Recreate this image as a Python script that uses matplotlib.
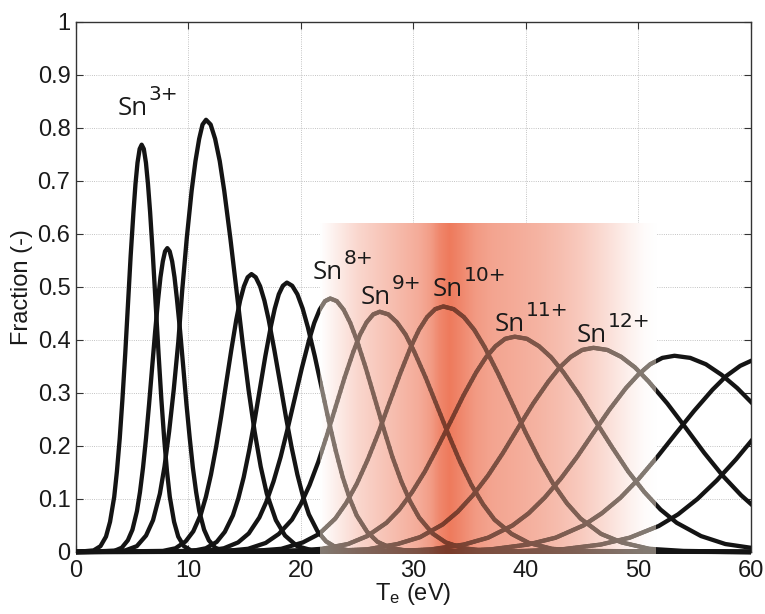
import matplotlib
matplotlib.use("Agg")
import matplotlib.pyplot as plt
import numpy as np
from matplotlib.collections import LineCollection
from matplotlib.colors import LinearSegmentedColormap
from matplotlib.patches import Rectangle

# ion fraction curves, Te in eV
sn3_x = [0, 1.57, 2.18, 2.67, 3.03, 3.40, 3.64, 3.89, 4.13, 4.38, 4.62, 4.86, 5.11, 5.29, 5.47, 5.66,
         5.84, 6.03, 6.22, 6.40, 6.59, 6.84, 7.09, 7.34, 7.59, 7.84, 8.09, 8.34, 8.72, 9.09, 9.59, 10.22, 60.5]
sn3_y = [0, 0.003, 0.011, 0.029, 0.057, 0.104, 0.152, 0.214, 0.288, 0.374, 0.466, 0.558, 0.641, 0.694, 0.734, 0.760,
         0.768, 0.760, 0.734, 0.694, 0.641, 0.558, 0.466, 0.374, 0.288, 0.214, 0.152, 0.104, 0.057, 0.029, 0.011, 0.003, 0]

sn4_x = [0, 3.40, 4.07, 4.61, 5.02, 5.42, 5.69, 5.96, 6.23, 6.50, 6.77, 7.04, 7.31, 7.51, 7.72, 7.92,
         8.12, 8.33, 8.55, 8.76, 8.97, 9.26, 9.54, 9.82, 10.11, 10.39, 10.68, 10.96, 11.39, 11.81, 12.38, 13.09, 60.5]
sn4_y = [0, 0.002, 0.008, 0.022, 0.042, 0.077, 0.113, 0.159, 0.215, 0.279, 0.348, 0.416, 0.478, 0.518, 0.548, 0.567,
         0.573, 0.567, 0.548, 0.518, 0.478, 0.416, 0.348, 0.279, 0.215, 0.159, 0.113, 0.077, 0.042, 0.022, 0.008, 0.002, 0]

sn5_x = [0, 4.39, 5.41, 6.23, 6.85, 7.46, 7.87, 8.28, 8.69, 9.10, 9.45, 9.85, 10.28, 10.62, 10.95, 11.25,
         11.56, 11.97, 12.37, 12.78, 13.18, 13.72, 14.26, 14.80, 15.34, 15.88, 16.42, 16.96, 17.77, 18.58, 19.66, 21.01, 60.5]
sn5_y = [0, 0.003, 0.011, 0.031, 0.060, 0.110, 0.161, 0.227, 0.306, 0.397, 0.495, 0.592, 0.681, 0.737, 0.779, 0.806,
         0.815, 0.806, 0.779, 0.737, 0.681, 0.592, 0.495, 0.397, 0.306, 0.227, 0.161, 0.110, 0.060, 0.031, 0.011, 0.003, 0]

sn6_x = [0, 7.73, 8.85, 9.75, 10.43, 11.10, 11.55, 12.00, 12.45, 12.90, 13.35, 13.80, 14.25, 14.59, 14.93, 15.26,
         15.60, 15.98, 16.37, 16.75, 17.13, 17.64, 18.15, 18.66, 19.17, 19.68, 20.19, 20.70, 21.47, 22.23, 23.25, 24.53, 60.5]
sn6_y = [0, 0.002, 0.007, 0.020, 0.039, 0.071, 0.104, 0.146, 0.197, 0.255, 0.318, 0.380, 0.438, 0.474, 0.501, 0.518,
         0.524, 0.518, 0.501, 0.474, 0.438, 0.380, 0.318, 0.255, 0.197, 0.146, 0.104, 0.071, 0.039, 0.020, 0.007, 0.002, 0]

sn7_x = [0, 10.35, 11.55, 12.51, 13.23, 13.95, 14.43, 14.91, 15.39, 15.87, 16.35, 16.83, 17.31, 17.67, 18.03, 18.39,
         18.75, 19.22, 19.68, 20.15, 20.61, 21.23, 21.85, 22.47, 23.09, 23.71, 24.33, 24.95, 25.88, 26.81, 28.05, 29.60, 60.5]
sn7_y = [0, 0.002, 0.007, 0.019, 0.038, 0.069, 0.101, 0.141, 0.191, 0.247, 0.308, 0.369, 0.424, 0.459, 0.486, 0.502,
         0.508, 0.502, 0.486, 0.459, 0.424, 0.369, 0.308, 0.247, 0.191, 0.141, 0.101, 0.069, 0.038, 0.019, 0.007, 0.002, 0]

sn8_x = [0, 11.58, 13.15, 14.41, 15.36, 16.30, 16.93, 17.56, 18.19, 18.82, 19.45, 20.08, 20.71, 21.18, 21.66, 22.13,
         22.60, 23.19, 23.79, 24.38, 24.97, 25.76, 26.55, 27.34, 28.13, 28.92, 29.71, 30.50, 31.69, 32.87, 34.45, 36.43, 60.5]
sn8_y = [0, 0.002, 0.007, 0.018, 0.035, 0.065, 0.095, 0.133, 0.179, 0.233, 0.290, 0.347, 0.399, 0.432, 0.457, 0.473,
         0.478, 0.473, 0.457, 0.432, 0.399, 0.347, 0.290, 0.233, 0.179, 0.133, 0.095, 0.065, 0.035, 0.018, 0.007, 0.002, 0]

sn9_x = [0, 13.35, 15.30, 16.86, 18.03, 19.20, 19.98, 20.76, 21.54, 22.32, 23.10, 23.88, 24.66, 25.25, 25.83, 26.42,
         27.00, 27.77, 28.53, 29.30, 30.06, 31.08, 32.10, 33.12, 34.14, 35.16, 36.18, 37.20, 38.73, 40.26, 42.30, 44.85, 60.5]
sn9_y = [0, 0.002, 0.006, 0.017, 0.034, 0.061, 0.090, 0.126, 0.170, 0.221, 0.275, 0.329, 0.378, 0.410, 0.433, 0.448,
         0.453, 0.448, 0.433, 0.410, 0.378, 0.329, 0.275, 0.221, 0.170, 0.126, 0.090, 0.061, 0.034, 0.017, 0.006, 0.002, 0]

sn10_x = [0, 15.85, 18.25, 20.17, 21.61, 23.05, 24.01, 24.97, 25.93, 26.89, 27.85, 28.81, 29.77, 30.49, 31.21, 31.93,
          32.65, 33.57, 34.48, 35.40, 36.31, 37.53, 38.75, 39.97, 41.19, 42.41, 43.63, 44.85, 46.68, 48.51, 50.95, 54.00, 60.5]
sn10_y = [0, 0.002, 0.006, 0.018, 0.034, 0.063, 0.092, 0.129, 0.174, 0.225, 0.281, 0.336, 0.387, 0.419, 0.443, 0.458,
          0.463, 0.458, 0.443, 0.419, 0.387, 0.336, 0.281, 0.225, 0.174, 0.129, 0.092, 0.063, 0.034, 0.018, 0.006, 0.002, 0]

sn11_x = [0, 19.05, 21.90, 24.18, 25.89, 27.60, 28.74, 29.88, 31.02, 32.16, 33.30, 34.44, 35.58, 36.44, 37.29, 38.15,
          39.00, 40.08, 41.16, 42.24, 43.32, 44.76, 46.20, 47.64, 49.08, 50.52, 51.96, 53.40, 55.56, 57.72, 60.60]
sn11_y = [0, 0.002, 0.006, 0.015, 0.030, 0.055, 0.080, 0.113, 0.152, 0.198, 0.246, 0.295, 0.339, 0.367, 0.388, 0.402,
          0.406, 0.402, 0.388, 0.367, 0.339, 0.295, 0.246, 0.198, 0.152, 0.113, 0.080, 0.055, 0.030, 0.015, 0.006]

sn12_x = [0, 22.55, 25.90, 28.58, 30.59, 32.60, 33.94, 35.28, 36.62, 37.96, 39.30, 40.64, 41.98, 42.99, 43.99, 45.00,
          46.00, 47.23, 48.46, 49.69, 50.92, 52.56, 54.20, 55.84, 57.48, 59.12, 60.76]
sn12_y = [0, 0.002, 0.005, 0.015, 0.028, 0.052, 0.076, 0.107, 0.144, 0.187, 0.234, 0.280, 0.321, 0.348, 0.368, 0.381,
          0.385, 0.381, 0.368, 0.348, 0.321, 0.280, 0.234, 0.187, 0.144, 0.107, 0.076]

sn13_x = [0, 28.00, 31.60, 34.48, 36.64, 38.80, 40.24, 41.68, 43.12, 44.56, 46.00, 47.44, 48.88, 49.96, 51.04, 52.12,
          53.20, 54.60, 55.99, 57.39, 58.78, 60.64]
sn13_y = [0, 0.001, 0.005, 0.014, 0.027, 0.050, 0.073, 0.103, 0.139, 0.180, 0.225, 0.269, 0.309, 0.334, 0.354, 0.366,
          0.370, 0.366, 0.354, 0.334, 0.309, 0.269]

sn14_x = [0, 32.80, 36.90, 40.18, 42.64, 45.10, 46.74, 48.38, 50.02, 51.66, 53.30, 54.94, 56.58, 57.81, 59.04, 60.27, 61.50]
sn14_y = [0, 0.001, 0.005, 0.014, 0.027, 0.050, 0.073, 0.102, 0.138, 0.179, 0.223, 0.266, 0.306, 0.332, 0.351, 0.363, 0.367]

sn15_x = [0, 38.90, 43.20, 46.64, 49.22, 51.80, 53.52, 55.24, 56.96, 58.68, 60.40, 62.12]
sn15_y = [0, 0.001, 0.005, 0.014, 0.027, 0.049, 0.071, 0.100, 0.135, 0.175, 0.219, 0.261]

# highlighted temperature window and its colour profile
band_x = [21.7, 23.0, 25.0, 27.0, 29.0, 30.5, 31.5, 32.3, 33.2, 34.2, 35.5, 37.0, 39.0, 41.0, 43.0, 45.0, 47.0, 49.0, 50.5, 51.6]
band_level = [0, 0.12, 0.3, 0.42, 0.54, 0.63, 0.74, 0.9, 1.0, 0.9, 0.76, 0.68, 0.63, 0.57, 0.49, 0.39, 0.26, 0.12, 0.03, 0]
band_top = 0.62

ion_labels = ["3+", "8+", "9+", "10+", "11+", "12+"]
xtick_vals = [0, 10, 20, 30, 40, 50, 60]
ytick_labels = ["0", "0.1", "0.2", "0.3", "0.4", "0.5", "0.6", "0.7", "0.8", "0.9", "1"]

curves = [(sn3_x, sn3_y), (sn4_x, sn4_y), (sn5_x, sn5_y), (sn6_x, sn6_y), (sn7_x, sn7_y),
          (sn8_x, sn8_y), (sn9_x, sn9_y), (sn10_x, sn10_y), (sn11_x, sn11_y), (sn12_x, sn12_y),
          (sn13_x, sn13_y), (sn14_x, sn14_y), (sn15_x, sn15_y)]

# label anchor (left, baseline) in data coords
label_pos = [(3.73, 0.824), (21.07, 0.515), (25.33, 0.468), (31.73, 0.483), (37.24, 0.417), (44.53, 0.396)]

plt.rcParams["font.family"] = "Liberation Sans"
plt.rcParams["mathtext.fontset"] = "custom"
plt.rcParams["mathtext.rm"] = "Liberation Sans"
plt.rcParams["mathtext.it"] = "Liberation Sans:italic"

fig = plt.figure(figsize=(7.65, 6.14), dpi=100)
ax = fig.add_axes([0.0993, 0.101, 0.8824, 0.8637])

# gradient band
red = np.array([238, 122, 92]) / 255.0
x0, x1 = band_x[0], band_x[-1]
stops = [((bx - x0) / (x1 - x0), tuple(1 - lv * (1 - red))) for bx, lv in zip(band_x, band_level)]
band_cmap = LinearSegmentedColormap.from_list("band", stops, N=512)
grad = np.linspace(0, 1, 600)[None, :]
ax.imshow(grad, cmap=band_cmap, extent=[x0, x1, 0, band_top], aspect="auto",
          interpolation="bilinear", zorder=1)

line_col = "#141414"
grey = np.array([0.51, 0.48, 0.45])
lw = 3.1

clip_left = Rectangle((0, -1), x0, 2, transform=ax.transData)
clip_right = Rectangle((x1, -1), 60 - x1, 2, transform=ax.transData)
clip_mid = Rectangle((x0, -1), x1 - x0, 2, transform=ax.transData)

for cx, cy in curves:
    for clip in (clip_left, clip_right):
        ln, = ax.plot(cx, cy, color=line_col, lw=lw, solid_joinstyle="round",
                      solid_capstyle="round", zorder=3)
        ln.set_clip_path(clip)
    # inside the window the curve takes on the band tint
    xs = np.asarray(cx, float)
    ys = np.asarray(cy, float)
    segs, cols = [], []
    for i in range(len(xs) - 1):
        if xs[i + 1] < x0 - 0.5 or xs[i] > x1 + 0.5:
            continue
        n = max(1, int(np.ceil((xs[i + 1] - xs[i]) / 0.15)))
        f = np.linspace(0, 1, n + 1)
        px = xs[i] + f * (xs[i + 1] - xs[i])
        py = ys[i] + f * (ys[i + 1] - ys[i])
        for j in range(n):
            segs.append([(px[j], py[j]), (px[j + 1], py[j + 1])])
            xm = 0.5 * (px[j] + px[j + 1])
            t = min(max((xm - x0) / (x1 - x0), 0), 1)
            cols.append(tuple(grey * np.array(band_cmap(t)[:3])))
    lc = LineCollection(segs, colors=cols, linewidths=lw, capstyle="round",
                        joinstyle="round", zorder=3)
    ax.add_collection(lc)
    lc.set_clip_path(clip_mid)

for (lx, ly), charge in zip(label_pos, ion_labels):
    t = ax.text(lx, ly, "Sn", fontsize=18.5, family="Open Sans", color="#1a1a1a",
                ha="left", va="baseline", zorder=5)
    ax.annotate(charge, xy=(1, 0), xycoords=t, xytext=(0.5, 15), textcoords="offset points",
                fontsize=14.5, family="DejaVu Sans", color="#1a1a1a",
                ha="left", va="baseline", zorder=5)

ax.set_xlim(0, 60)
ax.set_ylim(0, 1)
ax.set_xticks(xtick_vals)
ax.set_yticks(np.arange(0, 1.01, 0.1))
ax.set_yticklabels(ytick_labels)
ax.grid(True, linestyle=":", color="#b0b0b0", linewidth=0.6)
ax.set_axisbelow(True)

ax.tick_params(direction="in", length=5, width=0.8, top=True, right=True,
               labelsize=17, color="#333333", labelcolor="#1a1a1a")
ax.tick_params(axis="x", pad=6)
ax.tick_params(axis="y", pad=4)
for sp in ax.spines.values():
    sp.set_color("#333333")
    sp.set_linewidth(1.0)

ax.set_xlabel(r"T$_\mathrm{e}$ (eV)", fontsize=17, color="#1a1a1a")
ax.xaxis.set_label_coords(0.5, -0.055)
ax.set_ylabel("Fraction (-)", fontsize=17, color="#1a1a1a")
ax.yaxis.set_label_coords(-0.064, 0.5)

fig.savefig("out.png", dpi=100)
